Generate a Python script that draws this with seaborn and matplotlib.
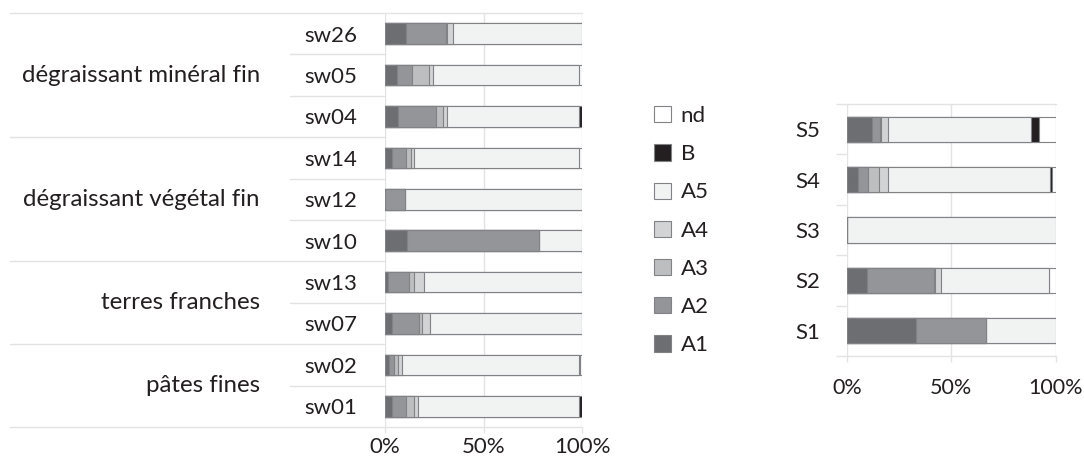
"""
Stacked composition bars: samples grouped by fabric, and series S1-S5
"""
import numpy as np
import pandas as pd
import matplotlib.pyplot as plt
from matplotlib.patches import Patch
import seaborn as sns

sns.set_theme(style="white")
plt.rcParams['font.family'] = ['Lato', 'DejaVu Sans']
plt.rcParams['text.color'] = '#231f20'
plt.rcParams['xtick.color'] = '#231f20'
plt.rcParams['ytick.color'] = '#231f20'

CATS = ['A1', 'A2', 'A3', 'A4', 'A5', 'B', 'nd']
COLORS = {'A1': '#6d6e71', 'A2': '#939598', 'A3': '#bcbec0', 'A4': '#d1d3d4',
          'A5': '#f1f2f2', 'B': '#231f20', 'nd': '#ffffff'}
EDGE = '#808285'
GRID = '#e3e3e3'

# left chart data (%)
samples = ['sw26', 'sw05', 'sw04', 'sw14', 'sw12', 'sw10', 'sw13', 'sw07', 'sw02', 'sw01']
groups = ['dégraissant minéral fin', 'dégraissant végétal fin', 'terres franches', 'pâtes fines']
group_sizes = [3, 3, 2, 2]
sw_A1 = [10.5, 5.9, 6.4, 3.4, 0.0, 11.0, 1.4, 3.6, 2.2, 3.4]
sw_A2 = [20.5, 7.6, 19.5, 7.3, 10.0, 67.0, 10.7, 13.6, 2.2, 7.1]
sw_A3 = [0.7, 8.8, 3.7, 2.4, 0.0, 0.0, 2.5, 1.7, 2.0, 4.2]
sw_A4 = [3.0, 1.9, 1.7, 1.4, 0.0, 0.0, 5.3, 4.0, 2.4, 1.9]
sw_A5 = [65.3, 74.1, 67.3, 84.2, 90.0, 22.0, 80.1, 77.1, 89.5, 82.0]
sw_B = [0.0, 0.0, 1.4, 0.0, 0.0, 0.0, 0.0, 0.0, 0.7, 1.4]
sw_nd = [0.0, 1.7, 0.0, 1.3, 0.0, 0.0, 0.0, 0.0, 1.0, 0.0]

# right chart data (%)
series = ['S5', 'S4', 'S3', 'S2', 'S1']
s_A1 = [12.1, 5.4, 0.0, 9.7, 33.3]
s_A2 = [3.8, 4.8, 0.0, 32.2, 33.4]
s_A3 = [0.5, 5.1, 0.0, 0.5, 0.0]
s_A4 = [3.5, 4.6, 0.0, 2.7, 0.0]
s_A5 = [68.1, 77.2, 100.0, 51.4, 33.3]
s_B = [4.0, 1.0, 0.0, 0.0, 0.0]
s_nd = [8.0, 1.9, 0.0, 3.5, 0.0]


def stacked(ax, labels, parts, pad, xpad, xfs=16):
    df = pd.DataFrame(dict(zip(CATS, parts)), index=labels)
    cum = df[CATS].cumsum(axis=1)
    # draw longest cumulative first so shorter ones overlay it
    for cat in CATS[::-1]:
        sns.barplot(x=cum[cat].values, y=labels, orient='h', color=COLORS[cat],
                    saturation=1, width=0.5, edgecolor=EDGE, linewidth=0.8, ax=ax)
    ax.set_xlim(0, 100)
    ax.set_ylim(len(labels) - 0.5, -0.5)
    ax.set_xticks([0, 50, 100])
    ax.set_xticklabels(['0%', '50%', '100%'], fontsize=xfs)
    ax.set_yticklabels(labels, fontsize=16)
    ax.set_xlabel('')
    ax.set_ylabel('')
    ax.grid(axis='x', color=GRID, linewidth=1)
    ax.set_axisbelow(True)
    for s in ['left', 'right']:
        ax.spines[s].set_visible(False)
    for s in ['top', 'bottom']:
        ax.spines[s].set_color(GRID)
        ax.spines[s].set_linewidth(1)
    ax.tick_params(axis='x', bottom=True, length=4.5, width=1, color=GRID, pad=xpad)
    ax.tick_params(axis='y', left=False, length=0, pad=pad)


fig = plt.figure(figsize=(10.84, 4.66), dpi=100)
ax1 = fig.add_axes([0.3552, 0.0837, 0.1817, 0.8884])
ax2 = fig.add_axes([0.7813, 0.2361, 0.1927, 0.5408])

stacked(ax1, samples, [sw_A1, sw_A2, sw_A3, sw_A4, sw_A5, sw_B, sw_nd], pad=20, xpad=3)
stacked(ax2, series, [s_A1, s_A2, s_A3, s_A4, s_A5, s_B, s_nd], pad=19, xpad=11, xfs=15.5)

# multi-level category separators on the left chart
bounds = np.arange(len(samples) + 1) - 0.5
group_bounds = set(np.cumsum([0] + group_sizes) - 0.5)
yt = ax1.get_yaxis_transform()
for b in bounds:
    x0 = -1.904 if b in group_bounds else -0.482
    ax1.plot([x0, 0], [b, b], color=GRID, linewidth=1, transform=yt, clip_on=False)
start = 0
for name, n in zip(groups, group_sizes):
    ax1.text(-0.635, start + (n - 1) / 2, name, transform=yt, ha='right', va='center', fontsize=17.3)
    start += n

# boundary ticks on the right chart
ax2.set_yticks(np.arange(len(series) + 1) - 0.5, minor=True)
ax2.tick_params(axis='y', which='minor', left=True, length=8, width=1, color=GRID)

handles = [Patch(facecolor=COLORS[c], edgecolor=EDGE, linewidth=0.8) for c in CATS[::-1]]
fig.legend(handles, CATS[::-1], loc='upper left', bbox_to_anchor=(654 / 1084, 1 - 106 / 466),
           frameon=False, fontsize=16, handlelength=0.75, handleheight=0.75,
           handletextpad=0.45, labelspacing=0.82, borderpad=0, borderaxespad=0)

fig.savefig('out.png', dpi=100)
